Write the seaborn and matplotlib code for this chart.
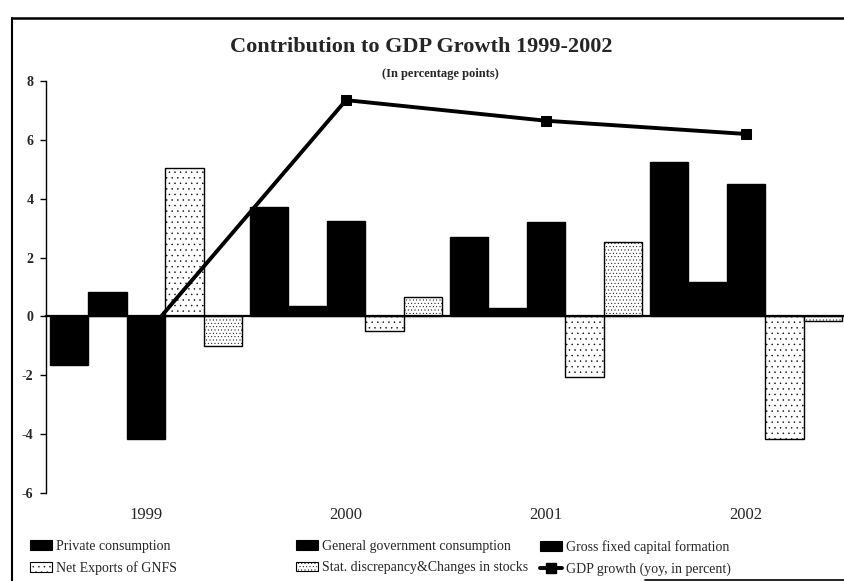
import numpy as np
import pandas as pd
import matplotlib
matplotlib.use("Agg")
import matplotlib.pyplot as plt
import seaborn as sns
from matplotlib.lines import Line2D
from matplotlib.patches import Patch

# ---- data ----
years = ["1999", "2000", "2001", "2002"]
series = ["Private consumption", "General government consumption",
          "Gross fixed capital formation", "Net Exports of GNFS",
          "Stat. discrepancy&Changes in stocks"]
private = [-1.65, 3.71, 2.70, 5.26]
gov = [0.82, 0.34, 0.28, 1.16]
gfcf = [-4.15, 3.24, 3.22, 4.49]
netexp = [5.05, -0.51, -2.07, -4.18]
stat = [-1.00, 0.67, 2.52, -0.17]
gdp = [-0.60, 7.35, 6.65, 6.20]
gdp_label = "GDP growth (yoy, in percent)"
yticks = [-6, -4, -2, 0, 2, 4, 6, 8]
title = "Contribution to GDP Growth 1999-2002"
subtitle = "(In percentage points)"

values = [private, gov, gfcf, netexp, stat]
df = pd.DataFrame({
    "year": [y for s in series for y in years],
    "series": [s for s in series for _ in years],
    "value": [v for vals in values for v in vals],
})

sns.set_theme(style="white")
plt.rcParams["font.family"] = ["Liberation Serif", "DejaVu Serif"]
plt.rcParams["hatch.linewidth"] = 0.3

W, H = 844, 581
fig = plt.figure(figsize=(W / 100, H / 100), dpi=100)
ax = fig.add_axes([46 / W, (H - 493) / H, 800 / W, (493 - 81) / H])

fills = ["black", "black", "black", "white", "white"]
hatches = [None, None, None, "...", "....."]
sns.barplot(data=df, x="year", y="value", hue="series", hue_order=series,
            palette=fills, saturation=1, width=0.9625, gap=0,
            edgecolor="black", linewidth=1.0, legend=False, ax=ax, zorder=2)
for cont, h in zip(ax.containers, hatches):
    for bar in cont:
        if h:
            bar.set_hatch(h)

sns.lineplot(x=np.arange(len(years)), y=gdp, ax=ax, color="black", lw=2.8,
             marker="s", markersize=7, markeredgecolor="black", zorder=5)

ax.set_xlim(-0.5, len(years) - 0.5)
ax.set_ylim(-6, 8)
ax.set_xlabel("")
ax.set_ylabel("")

for s in ["top", "right"]:
    ax.spines[s].set_visible(False)
ax.spines["left"].set_color("black")
ax.spines["left"].set_linewidth(1.0)
ax.spines["bottom"].set_position(("data", 0))
ax.spines["bottom"].set_color("black")
ax.spines["bottom"].set_linewidth(1.6)
ax.spines["bottom"].set_zorder(4)

ax.set_xticks([0.5, 1.5, 2.5])
ax.set_xticklabels([])
ax.tick_params(axis="x", direction="out", length=4, width=1, color="black")
ax.set_yticks(yticks)
ax.set_yticklabels([str(t) for t in yticks], fontweight="bold", fontsize=10)
ax.tick_params(axis="y", direction="out", length=4, width=1, color="black",
               left=True, pad=5)

sec = ax.secondary_xaxis(0.0)
sec.set_xticks(range(len(years)))
sec.set_xticklabels(years, fontsize=12)
sec.tick_params(length=0, pad=10)
sec.spines["bottom"].set_visible(False)

# title
fig.text(421 / W, 1 - 47 / H, title, ha="center", va="center",
         fontsize=16, fontweight="bold")
fig.text(440 / W, 1 - 74 / H, subtitle, ha="center", va="center",
         fontsize=9, fontweight="bold")

# legends (three columns)
h_patch = [Patch(facecolor=f, edgecolor="black", hatch=h, linewidth=0.8)
           for f, h in zip(fills, hatches)]
h_line = Line2D([], [], color="black", lw=2.8, marker="s", markersize=7)
cols = [([h_patch[0], h_patch[3]], [series[0], series[3]], 30),
        ([h_patch[1], h_patch[4]], [series[1], series[4]], 296),
        ([h_patch[2], h_line], [series[2], gdp_label], 540)]
for hs, ls, x0 in cols:
    leg = fig.legend(hs, ls, loc="upper left",
                     bbox_to_anchor=(x0 / W, 1 - 540 / H),
                     frameon=False, fontsize=10, handlelength=1.6,
                     handleheight=0.7, handletextpad=0.3, labelspacing=0.6,
                     borderpad=0, borderaxespad=0)

# frame around the chart
fig.add_artist(Line2D([12 / W, 12 / W], [0, 1 - 18 / H],
                      transform=fig.transFigure, color="black", lw=1.5))
fig.add_artist(Line2D([12 / W, 1], [1 - 18 / H, 1 - 18 / H],
                      transform=fig.transFigure, color="black", lw=1.8))
fig.add_artist(Line2D([645 / W, 1], [1 / H, 1 / H],
                      transform=fig.transFigure, color="black", lw=1.2))

fig.savefig("out.png", dpi=100)
